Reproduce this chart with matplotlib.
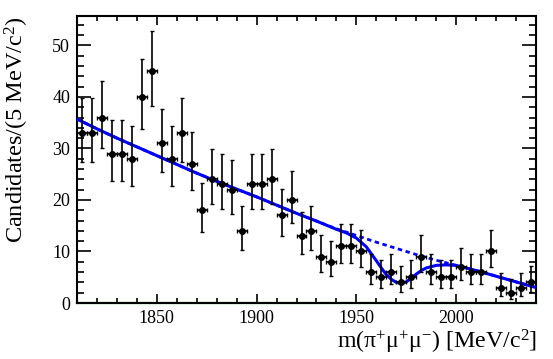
import numpy as np
import matplotlib
matplotlib.use('Agg')
import matplotlib.pyplot as plt
from matplotlib.ticker import MultipleLocator

# binned candidates, 5 MeV bins from 1810 to 2040
bin_lo = 1810
bin_w = 5
counts = [33, 33, 36, 29, 29, 28, 40, 45, 31, 28, 33, 27,
          18, 24, 23, 22, 14, 23, 23, 24, 17, 20, 13,
          14, 9, 8, 11, 11, 10, 6, 5, 6, 4, 5, 9,
          6, 5, 5, 7, 6, 6, 10, 3, 2, 3, 4]

# background component of the fit (dotted)
bkg_mass = [1810, 1820, 1830, 1840, 1850, 1860, 1870, 1880, 1890, 1900, 1910, 1920,
            1930, 1940, 1950, 1960, 1970, 1980, 1990, 2000, 2010, 2020, 2030, 2040]
bkg_vals = [35.7, 33.8, 32.0, 30.3, 28.6, 26.9, 25.2, 23.6, 22.1, 20.6, 19.0, 17.4,
            15.9, 14.4, 13.1, 11.8, 10.6, 9.4, 8.3, 7.3, 6.3, 5.2, 4.1, 3.0]

# total fit (solid)
tot_mass = [1810, 1820, 1830, 1840, 1850, 1860, 1870, 1880, 1890, 1900, 1910, 1920,
            1930, 1940, 1945, 1950, 1955, 1960, 1962.5, 1965, 1967.5, 1970, 1972.5,
            1975, 1977.5, 1980, 1982.5, 1985, 1990, 1995, 2000, 2010, 2020, 2030, 2040]
tot_vals = [35.7, 33.8, 32.0, 30.3, 28.6, 26.9, 25.2, 23.6, 22.1, 20.6, 19.0, 17.4,
            15.9, 14.3, 13.6, 12.6, 10.9, 8.2, 6.8, 5.5, 4.6, 4.0, 3.8,
            4.1, 4.8, 5.6, 6.3, 6.8, 7.3, 7.4, 7.3, 6.3, 5.2, 4.1, 3.0]

# peaking component, flat at zero
peak_mass = [1810, 2040]
peak_vals = [0, 0]


def poisson_errors(n):
    # approximate 68% Garwood interval
    n = np.asarray(n, dtype=float)
    lo = n * (1 - 1 / (9 * n) - 1 / (3 * np.sqrt(n))) ** 3
    m = n + 1
    hi = m * (1 - 1 / (9 * m) + 1 / (3 * np.sqrt(m))) ** 3
    return n - lo, hi - n


def make_plot():
    plt.rcParams['font.family'] = ['Liberation Serif', 'DejaVu Serif']
    plt.rcParams['mathtext.fontset'] = 'custom'
    plt.rcParams['mathtext.rm'] = 'Liberation Serif'
    plt.rcParams['mathtext.it'] = 'Liberation Serif:italic'

    fig = plt.figure(figsize=(5.53, 3.59), dpi=100)
    ax = fig.add_axes([77 / 553, 56 / 359, 459 / 553, 287 / 359])

    centers = bin_lo + bin_w * (np.arange(len(counts)) + 0.5)
    err_lo, err_hi = poisson_errors(counts)

    ax.plot(peak_mass, peak_vals, color='#00c000', lw=1.6, zorder=2, clip_on=False)
    ax.plot(bkg_mass, bkg_vals, color='#0000ff', lw=2.0, dashes=(1.6, 1.3), zorder=3)
    ax.plot(tot_mass, tot_vals, color='#0000ff', lw=2.2, zorder=4)
    ax.errorbar(centers, counts, yerr=[err_lo, err_hi], xerr=bin_w / 2,
                fmt='o', color='black', ms=4.0, elinewidth=1.2, capsize=1.2,
                capthick=1.0, zorder=5)

    ax.set_xlim(1810, 2040)
    ax.set_ylim(0, 55.7)
    ax.xaxis.set_major_locator(MultipleLocator(50))
    ax.xaxis.set_minor_locator(MultipleLocator(10))
    ax.yaxis.set_major_locator(MultipleLocator(10))
    ax.yaxis.set_minor_locator(MultipleLocator(2))
    ax.tick_params(which='both', direction='in', top=True, right=True,
                   labelsize=13, width=1.2)
    ax.tick_params(axis='x', which='major', length=6.5, pad=5)
    ax.tick_params(axis='x', which='minor', length=3.3)
    ax.tick_params(axis='y', which='major', length=10, pad=5)
    ax.tick_params(axis='y', which='minor', length=5)
    for s in ax.spines.values():
        s.set_linewidth(1.5)

    fig.text(537 / 553, 10 / 359,
             r'm($\mathrm{\pi^{+}\mu^{+}\mu^{-}}$) [MeV/$\mathrm{c^{2}}$]',
             ha='right', va='baseline', fontsize=17.2)
    fig.text(17 / 553, 342 / 359, r'Candidates/(5 MeV/$\mathrm{c^{2}}$)',
             ha='center', va='top', rotation=90, fontsize=17.5)

    fig.savefig('out.png', dpi=100)


def main():
    make_plot()


if __name__ == '__main__':
    main()
